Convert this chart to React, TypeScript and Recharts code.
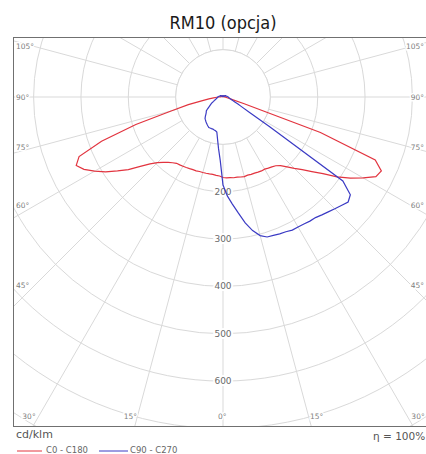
import React from 'react';
import { RadarChart, Radar, PolarGrid, PolarAngleAxis, PolarRadiusAxis } from 'recharts';

// gamma = angle from nadir (deg), one half-plane, 2.5° steps
const GAMMA = [
  0, 2.5, 5, 7.5, 10, 12.5, 15, 17.5, 20, 22.5, 25, 27.5,
  30, 32.5, 35, 37.5, 40, 42.5, 45, 47.5, 50, 52.5, 55, 57.5,
  60, 62.5, 65, 67.5, 70, 72.5, 75, 77.5, 80, 82.5, 85, 87.5,
  90, 92.5, 95, 97.5, 100, 102.5, 105, 107.5, 110, 112.5, 115, 117.5,
  120, 122.5, 125, 127.5, 130, 132.5, 135, 137.5, 140, 142.5, 145, 147.5,
  150, 152.5, 155, 157.5, 160, 162.5, 165, 167.5, 170, 172.5, 175, 177.5,
  180,
];

// cd/klm, red curve (C0 right half, C180 left half)
const C0 = [
  170, 171, 171, 172, 172, 173, 174, 173, 174, 174, 175, 176,
  176, 178, 180, 183, 189, 200, 213, 227, 245, 266, 294, 319,
  342, 364, 369, 348, 219, 47, 19, 12, 9, 7, 6, 5,
  4, 4, 4, 3, 3, 3, 3, 3, 3, 3, 3, 3,
  2, 2, 2, 2, 2, 2, 2, 2, 2, 2, 2, 2,
  2, 2, 2, 2, 1, 1, 1, 1, 1, 1, 1, 1,
  1,
];
const C180 = [
  170, 167, 166, 165, 165, 165, 165, 165, 166, 166, 167, 168,
  169, 170, 171, 175, 180, 187, 196, 209, 228, 252, 272, 294,
  313, 331, 342, 329, 273, 193, 112, 75, 44, 30, 20, 13,
  8, 6, 5, 4, 4, 3, 3, 3, 3, 3, 3, 3,
  2, 2, 2, 2, 2, 2, 2, 2, 2, 2, 2, 2,
  2, 2, 2, 2, 1, 1, 1, 1, 1, 1, 1, 1,
  1,
];

// blue curve (C90 right half, C270 left half)
const C90 = [
  186, 209, 227, 247, 270, 289, 303, 310, 311, 313, 314, 317,
  317, 318, 320, 321, 325, 329, 334, 339, 345, 339, 309, 116,
  64, 44, 34, 27, 22, 19, 17, 15, 14, 13, 12, 11,
  11, 10, 9, 9, 8, 8, 7, 7, 6, 6, 6, 5,
  5, 5, 4, 4, 4, 4, 3, 3, 3, 3, 3, 2,
  2, 2, 2, 2, 2, 2, 1, 1, 1, 1, 1, 1,
  1,
];
const C270 = [
  186, 134, 109, 89, 75, 73, 72, 71, 71, 71, 71, 69,
  67, 65, 63, 61, 59, 55, 51, 48, 46, 41, 36, 32,
  29, 26, 22, 20, 18, 16, 15, 14, 13, 12, 12, 11,
  11, 10, 9, 9, 8, 8, 7, 7, 6, 6, 6, 5,
  5, 5, 4, 4, 4, 4, 3, 3, 3, 3, 3, 2,
  2, 2, 2, 2, 2, 2, 1, 1, 1, 1, 1, 1,
  1,
];

const RINGS = [100, 200, 300, 400, 500, 600, 700, 800];
const RING_LABELS = [200, 300, 400, 500, 600];
const GRID_ANGLES = [0, 15, 30, 45, 60, 75, 90, 105, 120, 135, 150, 165, 180, 195, 210, 225, 240, 255, 270, 285, 300, 315, 330, 345];
const SIDE_LABELS = [105, 90, 75, 60, 45];
const BOTTOM_LABELS = [30, 15];

const RED = '#e2343f';
const BLUE = '#3b3bc4';
const GRID = '#d9d9d9';

// plot box inside the frame and polar origin
const W = 420;
const H = 388;
const CX = 209;
const CY = 59;
const RMAX = 850;
const OUTER_R = RMAX * 0.4735;
const PX = OUTER_R / RMAX;
const BOTTOM = H - 1 - CY;

const rad = (d: number) => (d * Math.PI) / 180;

// walk round the circle: right half 0..180, then left half back to 0
const data: { pos: number; red: number; blue: number }[] = [];
GAMMA.forEach((g, i) => data.push({ pos: g, red: C0[i], blue: C90[i] }));
for (let i = GAMMA.length - 2; i >= 1; i--) {
  data.push({ pos: 360 - GAMMA[i], red: C180[i], blue: C270[i] });
}

const halo = { stroke: '#fff', strokeWidth: 3, paintOrder: 'stroke' as const };
const degStyle = { fontSize: 7.5, fill: '#808080', fontFamily: 'DejaVu Sans' };

function Labels() {
  const out: React.ReactNode[] = [];
  SIDE_LABELS.forEach((g) => {
    const y = CY + (CX / Math.tan(rad(g))) * 0.9 + 2.7;
    out.push(<text key={'l' + g} x={2} y={y} {...degStyle} {...halo}>{g}°</text>);
    out.push(<text key={'r' + g} x={410} y={y} textAnchor="end" {...degStyle} {...halo}>{g}°</text>);
  });
  const by = 381;
  BOTTOM_LABELS.forEach((g) => {
    const dx = BOTTOM * Math.tan(rad(g));
    out.push(<text key={'bl' + g} x={CX - dx + 2} y={by} textAnchor="end" {...degStyle} {...halo}>{g}°</text>);
    out.push(<text key={'br' + g} x={CX + dx - 1} y={by} {...degStyle} {...halo}>{g}°</text>);
  });
  out.push(<text key="b0" x={CX - 5} y={by} {...degStyle} {...halo}>0°</text>);
  RING_LABELS.forEach((v) => {
    out.push(
      <text key={'r' + v} x={CX} y={CY + v * PX + 3} textAnchor="middle" fontSize={9} fill="#6a6a6a" fontFamily="DejaVu Sans" stroke="#fff" strokeWidth={4} paintOrder="stroke">
        {v}
      </text>,
    );
  });
  return <g>{out}</g>;
}

export default function App() {
  return (
    <div style={{ position: 'relative', width: 426, height: 454, overflow: 'hidden', background: '#fff', fontFamily: 'DejaVu Sans' }}>
      <style>{'body{margin:0}'}</style>
      <div style={{ position: 'absolute', left: 0, width: 446, top: 12, height: 22, lineHeight: '22px', textAlign: 'center', fontSize: 18, fontFamily: 'DejaVu Sans Condensed', color: '#1a1a1a' }}>
        RM10 (opcja)
      </div>
      <div style={{ position: 'absolute', left: 13, top: 37, width: W, height: H, border: '1px solid #707070', overflow: 'hidden' }}>
        <RadarChart
          width={W}
          height={H}
          data={data}
          cx={CX}
          cy={CY}
          innerRadius={0}
          outerRadius={OUTER_R}
          startAngle={-90}
          endAngle={270}
          margin={{ top: 0, right: 0, bottom: 0, left: 0 }}
        >
          <PolarGrid
            gridType="circle"
            stroke={GRID}
            polarAngles={GRID_ANGLES.map((a) => a - 90)}
            polarRadius={RINGS.map((v) => v * PX)}
          />
          <PolarAngleAxis dataKey="pos" type="number" domain={[0, 360]} allowDataOverflow tick={false} axisLine={false} />
          <PolarRadiusAxis domain={[0, RMAX]} type="number" allowDataOverflow tick={false} axisLine={false} />
          <circle cx={CX} cy={CY} r={100 * PX} fill="#fff" stroke={GRID} />
          <Labels />
          <Radar dataKey="red" stroke={RED} strokeWidth={1.2} fill="none" fillOpacity={0} dot={false} isAnimationActive={false} />
          <Radar dataKey="blue" stroke={BLUE} strokeWidth={1.2} fill="none" fillOpacity={0} dot={false} isAnimationActive={false} />
        </RadarChart>
      </div>
      <div style={{ position: 'absolute', left: 16, top: 428, fontSize: 11, lineHeight: '13px', color: '#555' }}>cd/klm</div>
      <div style={{ position: 'absolute', left: 373, top: 430, fontSize: 10.5, lineHeight: '13px', color: '#555', whiteSpace: 'nowrap' }}>η = 100%</div>
      <svg style={{ position: 'absolute', left: 0, top: 440, width: 200, height: 14 }}>
        <line x1={17} x2={42} y1={11} y2={11} stroke={RED} strokeWidth={1} />
        <text x={46} y={12.5} fontSize={8.5} fill="#666" fontFamily="DejaVu Sans">C0 - C180</text>
        <line x1={99} x2={128} y1={11} y2={11} stroke={BLUE} strokeWidth={1} />
        <text x={130} y={12.5} fontSize={8.5} fill="#666" fontFamily="DejaVu Sans">C90 - C270</text>
      </svg>
    </div>
  );
}
